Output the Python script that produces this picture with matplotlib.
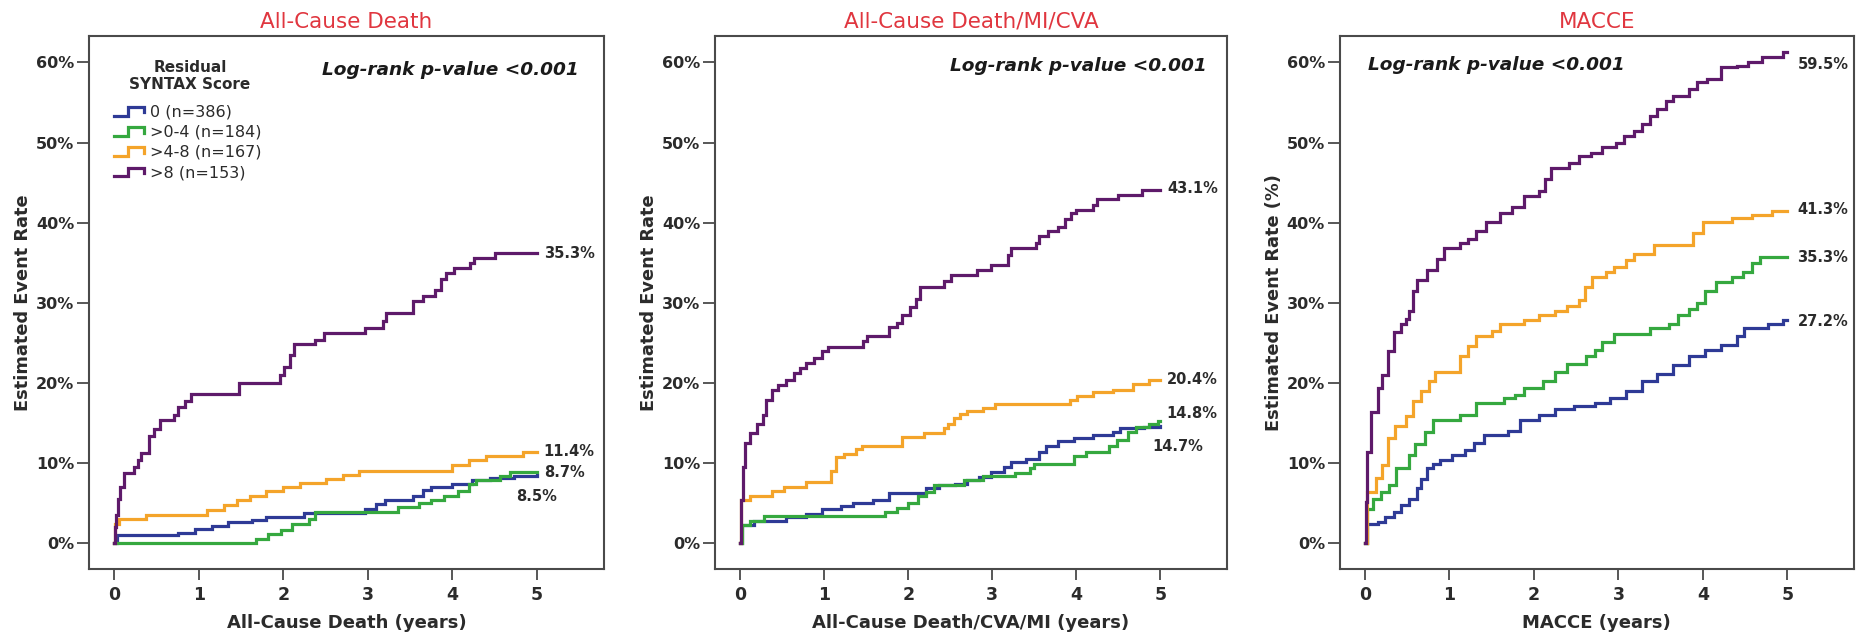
import matplotlib
matplotlib.use('Agg')
import matplotlib.pyplot as plt
from matplotlib.legend_handler import HandlerBase
from matplotlib.lines import Line2D

### DATA ###

# Kaplan-Meier style cumulative event rates (%), years
groups = ['0 (n=386)', '>0-4 (n=184)', '>4-8 (n=167)', '>8 (n=153)']
colors = ['#2e3a96', '#35a83f', '#f4a42a', '#5e1a6a']

# panel 1: all-cause death
death_t = [
    [0, 0.03, 0.75, 0.95, 1.15, 1.35, 1.63, 1.8, 2.25, 2.97, 3.1, 3.2, 3.53, 3.65, 3.75, 4.0, 4.23, 4.45, 4.73, 5.0],
    [0, 1.68, 1.82, 1.97, 2.1, 2.3, 2.38, 3.36, 3.6, 3.75, 3.9, 4.07, 4.2, 4.28, 4.56, 4.68, 5.0],
    [0, 0.01, 0.05, 0.38, 1.1, 1.3, 1.45, 1.6, 1.8, 2.0, 2.2, 2.5, 2.7, 2.9, 4.0, 4.2, 4.4, 4.83, 5.0],
    [0, 0.01, 0.02, 0.04, 0.07, 0.11, 0.23, 0.28, 0.31, 0.41, 0.47, 0.54, 0.70, 0.75, 0.84, 0.91, 1.47, 1.96,
     2.01, 2.08, 2.13, 2.38, 2.48, 2.97, 3.18, 3.22, 3.53, 3.65, 3.79, 3.86, 3.93, 4.02, 4.21, 4.26, 4.51, 5.0],
]
death_y = [
    [0, 1.0, 1.3, 1.7, 2.1, 2.6, 2.9, 3.2, 3.8, 4.3, 4.8, 5.3, 5.9, 6.6, 7.0, 7.4, 7.8, 8.1, 8.4, 8.5],
    [0, 0.5, 1.1, 1.6, 2.4, 3.0, 3.9, 4.5, 5.0, 5.4, 5.9, 6.5, 7.3, 7.9, 8.4, 8.9, 8.9],
    [0, 2.4, 3.0, 3.5, 4.1, 4.7, 5.4, 5.9, 6.5, 7.0, 7.5, 8.0, 8.5, 9.0, 9.7, 10.4, 10.9, 11.4, 11.4],
    [0, 2.0, 3.5, 5.5, 7.0, 8.7, 9.5, 10.4, 11.2, 13.3, 14.2, 15.4, 16.0, 17.0, 17.7, 18.6, 20.0, 21.0,
     22.0, 23.5, 24.8, 25.4, 26.2, 26.8, 27.7, 28.7, 30.2, 30.8, 31.6, 32.9, 33.7, 34.3, 35.0, 35.6, 36.2, 36.2],
]

# panel 2: all-cause death / MI / CVA
dmc_t = [
    [0, 0.02, 0.17, 0.55, 0.78, 0.97, 1.2, 1.34, 1.58, 1.77, 2.21, 2.37, 2.56, 2.7, 2.84, 2.98, 3.14, 3.22,
     3.4, 3.55, 3.64, 3.78, 3.97, 4.2, 4.43, 4.52, 4.8, 5.0],
    [0, 0.02, 0.12, 0.28, 1.72, 1.86, 2.0, 2.12, 2.21, 2.31, 2.66, 2.89, 3.27, 3.45, 3.5, 3.97, 4.11, 4.39,
     4.48, 4.62, 4.71, 4.86, 4.97, 5.0],
    [0, 0.01, 0.12, 0.38, 0.52, 0.78, 1.08, 1.14, 1.24, 1.38, 1.45, 1.93, 2.19, 2.42, 2.47, 2.54, 2.61, 2.70,
     2.89, 3.03, 3.92, 4.01, 4.2, 4.43, 4.67, 4.86, 5.0],
    [0, 0.01, 0.03, 0.054, 0.12, 0.2, 0.27, 0.31, 0.38, 0.45, 0.55, 0.64, 0.71, 0.78, 0.88, 0.97, 1.04, 1.46,
     1.51, 1.77, 1.86, 1.93, 2.02, 2.09, 2.14, 2.42, 2.51, 2.82, 2.98, 3.19, 3.22, 3.52, 3.55, 3.66, 3.78,
     3.87, 3.94, 3.99, 4.2, 4.24, 4.5, 4.78, 5.0],
]
dmc_y = [
    [0, 2.2, 2.8, 3.2, 3.6, 4.2, 4.6, 5.0, 5.4, 6.2, 6.8, 7.2, 7.4, 7.8, 8.2, 8.8, 9.5, 10.1,
     10.5, 11.3, 12.1, 12.7, 13.1, 13.5, 13.9, 14.3, 14.5, 14.6],
    [0, 2.3, 2.8, 3.4, 3.9, 4.4, 5.0, 5.8, 6.4, 7.2, 7.9, 8.3, 8.7, 9.3, 9.9, 10.9, 11.3, 12.1,
     12.9, 13.9, 14.5, 14.8, 15.2, 15.2],
    [0, 5.4, 5.9, 6.5, 7.0, 7.6, 9.0, 10.7, 11.1, 11.7, 12.1, 13.2, 13.7, 14.3, 14.8, 15.6, 16.1, 16.5,
     16.9, 17.3, 17.9, 18.3, 18.8, 19.1, 19.9, 20.4, 20.4],
    [0, 5.3, 9.5, 12.5, 13.7, 14.8, 16.0, 17.9, 19.1, 19.7, 20.4, 21.2, 21.9, 22.5, 23.1, 24.0, 24.5, 25.2,
     25.8, 27.0, 27.5, 28.5, 29.4, 30.4, 32.0, 32.7, 33.5, 34.1, 34.75, 36.0, 36.8, 37.5, 38.3, 38.9, 39.5,
     40.4, 41.2, 41.6, 42.25, 42.9, 43.5, 44.1, 44.1],
]

# panel 3: MACCE
macce_t = [
    [0, 0.03, 0.15, 0.24, 0.34, 0.43, 0.52, 0.62, 0.66, 0.73, 0.8, 0.89, 1.03, 1.18, 1.29, 1.41, 1.69, 1.83,
     2.06, 2.25, 2.48, 2.72, 2.9, 3.09, 3.28, 3.46, 3.65, 3.84, 4.02, 4.21, 4.4, 4.49, 4.77, 4.95, 5.0],
    [0, 0.03, 0.1, 0.19, 0.28, 0.37, 0.52, 0.59, 0.71, 0.8, 1.13, 1.32, 1.64, 1.78, 1.88, 2.11, 2.25, 2.39,
     2.62, 2.72, 2.81, 2.95, 3.37, 3.6, 3.7, 3.84, 3.93, 4.02, 4.16, 4.35, 4.47, 4.58, 4.68, 5.0],
    [0, 0.03, 0.13, 0.2, 0.27, 0.36, 0.48, 0.57, 0.66, 0.76, 0.83, 1.13, 1.22, 1.32, 1.5, 1.6, 1.88, 2.06,
     2.25, 2.39, 2.53, 2.6, 2.69, 2.85, 2.95, 3.09, 3.18, 3.42, 3.88, 4.0, 4.35, 4.58, 4.82, 5.0],
    [0, 0.01, 0.03, 0.07, 0.15, 0.2, 0.27, 0.34, 0.43, 0.48, 0.52, 0.57, 0.62, 0.73, 0.85, 0.94, 1.13, 1.22,
     1.32, 1.43, 1.6, 1.74, 1.88, 2.06, 2.13, 2.2, 2.41, 2.53, 2.67, 2.81, 2.97, 3.07, 3.18, 3.28, 3.37,
     3.46, 3.56, 3.65, 3.84, 3.93, 4.05, 4.21, 4.4, 4.54, 4.7, 4.95, 5.0],
]
macce_y = [
    [0, 2.4, 2.6, 3.2, 3.9, 4.7, 5.5, 6.8, 8.0, 9.3, 9.9, 10.4, 11.0, 11.6, 12.5, 13.5, 14.0, 15.4,
     16.0, 16.7, 17.1, 17.5, 18.1, 19.0, 20.2, 21.1, 22.2, 23.4, 24.1, 24.7, 25.8, 26.8, 27.4, 27.8, 27.8],
    [0, 4.3, 5.5, 6.4, 7.2, 9.3, 11.0, 12.4, 13.9, 15.4, 16.0, 17.5, 18.1, 18.5, 19.4, 20.2, 21.3, 22.4,
     23.3, 24.1, 25.1, 26.1, 26.9, 27.3, 28.4, 29.2, 30.0, 31.5, 32.6, 33.2, 33.8, 34.9, 35.7, 35.7],
    [0, 6.4, 8.1, 9.7, 13.1, 14.6, 15.8, 17.7, 19.0, 20.2, 21.3, 23.4, 24.6, 25.9, 26.5, 27.4, 27.8, 28.4,
     29.0, 29.6, 30.3, 31.9, 33.2, 33.8, 34.5, 35.3, 36.1, 37.2, 38.7, 40.1, 40.6, 41.0, 41.4, 41.4],
    [0, 5.1, 11.4, 16.4, 19.4, 21.0, 24.0, 26.3, 27.3, 28.0, 29.0, 31.5, 32.8, 34.1, 35.5, 36.8, 37.4, 38.0,
     38.9, 40.1, 41.2, 42.0, 43.3, 43.9, 45.4, 46.8, 47.5, 48.3, 48.7, 49.4, 50.0, 50.8, 51.4, 52.3, 53.3,
     54.2, 55.2, 55.8, 56.7, 57.5, 57.9, 59.4, 59.6, 60.1, 60.7, 61.3, 61.3],
]

# 5-year rates written next to the curves: (text, x, y)
death_end = [('35.3%', 5.08, 36.2), ('11.4%', 5.08, 11.4), ('8.7%', 5.08, 8.75), ('8.5%', 4.75, 5.8)]
dmc_end = [('43.1%', 5.08, 44.2), ('20.4%', 5.08, 20.4), ('14.8%', 5.07, 16.2), ('14.7%', 4.9, 12.0)]
macce_end = [('59.5%', 5.12, 59.8), ('41.3%', 5.12, 41.6), ('35.3%', 5.11, 35.6), ('27.2%', 5.12, 27.7)]

titles = ['All-Cause Death', 'All-Cause Death/MI/CVA', 'MACCE']
xlabels = ['All-Cause Death (years)', 'All-Cause Death/CVA/MI (years)', 'MACCE (years)']
ylabels = ['Estimated Event Rate', 'Estimated Event Rate', 'Estimated Event Rate (%)']
yticks = [0, 10, 20, 30, 40, 50, 60]
xticks = [0, 1, 2, 3, 4, 5]


### PLOTTING ###

class StepHandler(HandlerBase):
    # little step glyph like the SPSS legend
    def create_artists(self, legend, orig, xd, yd, width, height, fontsize, trans):
        fx = [0, 0.42, 0.42, 0.9, 0.9]
        fy = [0.05, 0.05, 0.85, 0.85, 0.35]
        ln = Line2D([-xd + f * width for f in fx], [-yd + f * height for f in fy],
                    color=orig.get_color(), lw=orig.get_linewidth(), solid_joinstyle='miter')
        ln.set_transform(trans)
        return [ln]


fig = plt.figure(figsize=(18.58, 6.37), dpi=100)
ax_pos = [[0.0479, 0.1068, 0.2770, 0.8367],
          [0.3848, 0.1068, 0.2755, 0.8367],
          [0.7210, 0.1068, 0.2769, 0.8367]]
all_t = [death_t, dmc_t, macce_t]
all_y = [death_y, dmc_y, macce_y]
all_end = [death_end, dmc_end, macce_end]
logrank_pos = [(5.5, 59.1, 'right'), (5.55, 59.5, 'right'), (0.04, 59.7, 'left')]
spine_col = '#4a4a4a'
txt_col = '#2b2b2b'

for i in range(3):
    ax = fig.add_axes(ax_pos[i])
    for g in range(4):
        ax.step(all_t[i][g], all_y[i][g], where='post', color=colors[g], lw=2.3,
                label=groups[g], solid_joinstyle='miter')
    ax.set_xlim(-0.3, 5.79)
    ax.set_ylim(-3.25, 63.3)
    ax.set_xticks(xticks, [str(x) for x in xticks], fontweight='bold')
    ax.set_yticks(yticks, ['%d%%' % y for y in yticks], fontweight='bold')
    ax.tick_params(axis='y', length=9, width=1.3, pad=1.5, labelsize=11.5, colors=spine_col, labelcolor=txt_col)
    ax.tick_params(axis='x', length=8, width=1.3, pad=4, labelsize=12.5, colors=spine_col, labelcolor=txt_col)
    for s in ax.spines.values():
        s.set_color(spine_col)
        s.set_linewidth(1.5)

    ax.set_title(titles[i], color='#e0363f', fontsize=15.5, pad=6)
    ax.set_xlabel(xlabels[i], fontsize=13, fontweight='bold', color=txt_col, va='center')
    ax.xaxis.set_label_coords(0.5, -54 / 533)
    ax.set_ylabel(ylabels[i], fontsize=12.8, fontweight='bold', color=txt_col, va='center')
    ax.yaxis.set_label_coords(-66 / 514, 0.5)

    lx, ly, lha = logrank_pos[i]
    ax.text(lx, ly, 'Log-rank p-value <0.001', ha=lha, va='center', fontsize=13.3,
            fontweight='bold', fontstyle='italic', color='#1a1a1a')

    for txt, x, y in all_end[i]:
        ax.text(x, y, txt, ha='left', va='center', fontsize=10.5, fontweight='bold', color=txt_col)

    if i == 0:
        ax.text(0.196, 0.925, 'Residual\nSYNTAX Score', transform=ax.transAxes, ha='center', va='center',
                fontsize=11, fontweight='bold', color=txt_col, linespacing=1.1)
        leg = ax.legend(loc='upper left', bbox_to_anchor=(0.048, 0.872), frameon=False,
                        fontsize=11.5, handler_map={Line2D: StepHandler()}, handlelength=2.1,
                        handletextpad=0.15, labelspacing=0.33, borderpad=0, borderaxespad=0)
        for t in leg.get_texts():
            t.set_color(txt_col)

plt.savefig('out.png', dpi=100)
